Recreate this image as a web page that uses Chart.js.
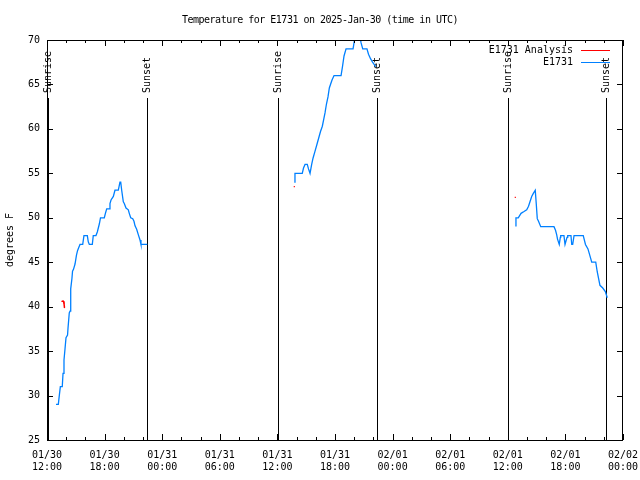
<!DOCTYPE html>
<html>
<head>
<meta charset="utf-8">
<script src="https://cdn.jsdelivr.net/npm/chart.js@4/dist/chart.umd.min.js"></script>
<style>
  html, body { margin: 0; padding: 0; background: #fff; }
</style>
</head>
<body>
<canvas id="tempChart" width="640" height="480"></canvas>
<script>
// x values are hours since 2025-01-30 12:00 UTC
const day1Hours = [0.94, 1.18, 1.28, 1.39, 1.59, 1.67, 1.77, 1.88, 1.98, 2.14, 2.19, 2.32, 2.40, 2.47, 2.60, 2.66, 2.76, 2.92, 3.07, 3.18, 3.33, 3.44, 3.72, 3.85, 4.20, 4.30, 4.41, 4.72, 4.82, 5.10, 5.24, 5.45, 5.57, 5.97, 6.11, 6.22, 6.46, 6.56, 6.67, 6.91, 7.08, 7.43, 7.60, 7.68, 7.78, 7.95, 8.05, 8.23, 8.47, 8.57, 8.72, 8.93, 9.06, 9.17, 9.34, 9.51, 9.69, 9.79, 10.45];
const day1Temps = [29, 29, 30, 31, 31, 32.5, 34, 35.3, 36.5, 36.8, 37.6, 39.3, 39.5, 42, 43.2, 44, 44.2, 44.8, 45.8, 46.3, 46.7, 47, 47, 48, 48, 47.3, 47, 47, 48, 48, 48.4, 49.3, 50, 50, 50.6, 51, 51, 51.6, 52, 52.4, 53.1, 53.1, 54, 54, 53.1, 51.8, 51.6, 51.1, 50.9, 50.5, 50, 49.9, 49.6, 49.1, 48.7, 48.1, 47.5, 47, 47];

const day2Hours = [25.76, 25.83, 26.59, 26.72, 26.88, 27.11, 27.24, 27.40, 27.57, 27.71, 27.92, 28.13, 28.36, 28.49, 28.68, 28.85, 28.96, 29.11, 29.27, 29.41, 29.53, 29.69, 29.90, 30.63, 30.78, 30.94, 31.15, 31.88, 32.03, 32.19, 32.55, 32.71, 32.89, 33.33, 33.49, 33.70, 33.91, 34.11, 34.27];
const day2Temps = [54, 55, 55, 55.6, 56, 56, 55.5, 55, 56, 56.7, 57.5, 58.3, 59.2, 59.7, 60.3, 61.2, 61.8, 62.8, 63.6, 64.6, 65, 65.5, 66, 66, 67, 68.2, 69, 69, 70, 70.8, 70.8, 69.7, 69, 69, 68.4, 67.9, 67.5, 67.2, 67];

const day3Hours = [48.78, 48.85, 49.09, 49.38, 49.69, 49.97, 50.16, 50.31, 50.49, 50.66, 50.86, 50.97, 51.07, 51.20, 51.43, 52.81, 52.97, 53.09, 53.18, 53.36, 53.47, 53.51, 53.85, 53.96, 54.06, 54.17, 54.24, 54.58, 54.66, 54.76, 54.90, 55.86, 56.09, 56.35, 56.64, 56.74, 57.16, 57.32, 57.60, 57.89, 58.16, 58.36];
const day3Temps = [49.1, 50, 50, 50.5, 50.7, 50.9, 51.3, 51.8, 52.4, 52.75, 53.1, 51.5, 49.9, 49.6, 49, 49, 48.6, 48.1, 47.6, 47, 47.8, 48, 48, 47, 47, 47.8, 48, 48, 47, 47, 48, 48, 47, 46.5, 45.4, 45, 45, 43.9, 42.4, 42.1, 41.7, 41];

// analysis points, null marks a break between days
const analysisHours = [1.56, 1.70, 1.77, 1.82, null, 25.76, null, 48.78];
const analysisTemps = [40.6, 40.6, 40.4, 39.9, null, 53.5, null, 52.3];

const sunriseHours = [0.13, 24.06, 48.03];
const sunsetHours = [10.39, 34.34, 58.23];

const yTicks = [25, 30, 35, 40, 45, 50, 55, 60, 65, 70];
const xMin = 0, xMax = 60;

const baseTime = Date.UTC(2025, 0, 30, 12, 0);
const monoFont = { family: 'DejaVu Sans Mono', size: 10 };
const blue = '#0080ff';
const red = '#ff0000';

function pad2(n) { return String(n).padStart(2, '0'); }
function timeLabel(h) {
    const d = new Date(baseTime + h * 3600000);
    return [pad2(d.getUTCMonth() + 1) + '/' + pad2(d.getUTCDate()),
            pad2(d.getUTCHours()) + ':' + pad2(d.getUTCMinutes())];
}

function toPoints(hours, temps) {
    return hours.map((h, i) => h === null ? { x: null, y: null } : { x: h, y: temps[i] });
}

const stationData = [].concat(
    toPoints(day1Hours, day1Temps), [{ x: null, y: null }],
    toPoints(day2Hours, day2Temps), [{ x: null, y: null }],
    toPoints(day3Hours, day3Temps)
);

// gnuplot-like frame: box, inward ticks, sun lines, title, legend
const gnuplotLook = {
    id: 'gnuplotLook',
    beforeDatasetsDraw(chart) {
        const ctx = chart.ctx, a = chart.chartArea, xs = chart.scales.x;
        ctx.save();
        ctx.strokeStyle = '#000';
        ctx.lineWidth = 1;
        ctx.fillStyle = '#000';
        ctx.font = '10px "DejaVu Sans Mono"';
        const marks = sunriseHours.map(h => [h, 'Sunrise']).concat(sunsetHours.map(h => [h, 'Sunset']));
        marks.forEach(([h, txt]) => {
            const x = Math.round(xs.getPixelForValue(h)) + 0.5;
            ctx.beginPath();
            ctx.moveTo(x, a.bottom);
            ctx.lineTo(x, a.top + 58);
            ctx.stroke();
            ctx.save();
            ctx.translate(x, a.top + 53);
            ctx.rotate(-Math.PI / 2);
            ctx.textAlign = 'left';
            ctx.textBaseline = 'middle';
            ctx.fillText(txt, 0, 0);
            ctx.restore();
        });
        ctx.restore();
    },
    afterDraw(chart) {
        const ctx = chart.ctx, a = chart.chartArea;
        const xs = chart.scales.x, ys = chart.scales.y;
        ctx.save();
        ctx.strokeStyle = '#000';
        ctx.lineWidth = 1;
        ctx.strokeRect(a.left + 0.5, a.top + 0.5, a.right - a.left - 1, a.bottom - a.top);
        ctx.beginPath();
        for (let h = xMin; h <= xMax; h += 2) {
            const x = Math.round(xs.getPixelForValue(h)) + 0.5;
            const len = h % 6 === 0 ? 6 : 3;
            ctx.moveTo(x, a.bottom); ctx.lineTo(x, a.bottom - len);
            ctx.moveTo(x, a.top); ctx.lineTo(x, a.top + len);
        }
        yTicks.forEach(v => {
            const y = Math.round(ys.getPixelForValue(v)) + 0.5;
            ctx.moveTo(a.left, y); ctx.lineTo(a.left + 6, y);
            ctx.moveTo(a.right, y); ctx.lineTo(a.right - 6, y);
        });
        ctx.stroke();

        ctx.fillStyle = '#000';
        ctx.font = '10px "DejaVu Sans Mono"';
        ctx.letterSpacing = '-0.5px';
        ctx.textAlign = 'center';
        ctx.textBaseline = 'middle';
        ctx.fillText('Temperature for E1731 on 2025-Jan-30 (time in UTC)', 320, 20);
        ctx.letterSpacing = '0px';

        ctx.textAlign = 'right';
        const rows = [chart.data.datasets[0], chart.data.datasets[1]];
        rows.forEach((ds, i) => {
            const y = a.top + 10 + i * 12;
            ctx.fillStyle = '#000';
            ctx.fillText(ds.label, 573, y);
            ctx.strokeStyle = ds.borderColor;
            ctx.beginPath();
            ctx.moveTo(581, Math.round(y) + 0.5);
            ctx.lineTo(610, Math.round(y) + 0.5);
            ctx.stroke();
        });
        ctx.restore();
    }
};

new Chart(document.getElementById('tempChart'), {
    type: 'line',
    data: {
        datasets: [{
            label: 'E1731 Analysis',
            data: toPoints(analysisHours, analysisTemps),
            borderColor: red,
            backgroundColor: red,
            borderWidth: 1.5,
            pointRadius: 0.8,
            pointStyle: 'rect',
            pointBorderWidth: 0,
            spanGaps: false,
            tension: 0
        }, {
            label: 'E1731',
            data: stationData,
            borderColor: blue,
            backgroundColor: blue,
            borderWidth: 1.3,
            pointRadius: 0,
            spanGaps: false,
            tension: 0
        }]
    },
    options: {
        responsive: false,
        animation: false,
        layout: { padding: { top: 40, right: 17, left: 0, bottom: 0 } },
        plugins: {
            legend: { display: false },
            title: { display: false },
            tooltip: { enabled: false }
        },
        scales: {
            x: {
                type: 'linear',
                min: xMin,
                max: xMax,
                grid: { display: false, drawTicks: false },
                border: { display: false },
                ticks: {
                    stepSize: 2,
                    autoSkip: false,
                    maxRotation: 0,
                    padding: 9,
                    color: '#000',
                    font: monoFont,
                    callback: v => v % 6 === 0 ? timeLabel(v) : ''
                },
                afterFit: s => { s.height = 40; s.paddingLeft = 0; s.paddingRight = 0; }
            },
            y: {
                min: 25,
                max: 70,
                grid: { display: false, drawTicks: false },
                border: { display: false },
                ticks: {
                    stepSize: 5,
                    padding: 7,
                    color: '#000',
                    font: monoFont
                },
                title: {
                    display: true,
                    text: 'degrees F',
                    color: '#000',
                    font: monoFont,
                    padding: 4
                },
                afterFit: s => { s.width = 47; s.paddingTop = 0; s.paddingBottom = 0; }
            }
        }
    },
    plugins: [gnuplotLook]
});
</script>
</body>
</html>
